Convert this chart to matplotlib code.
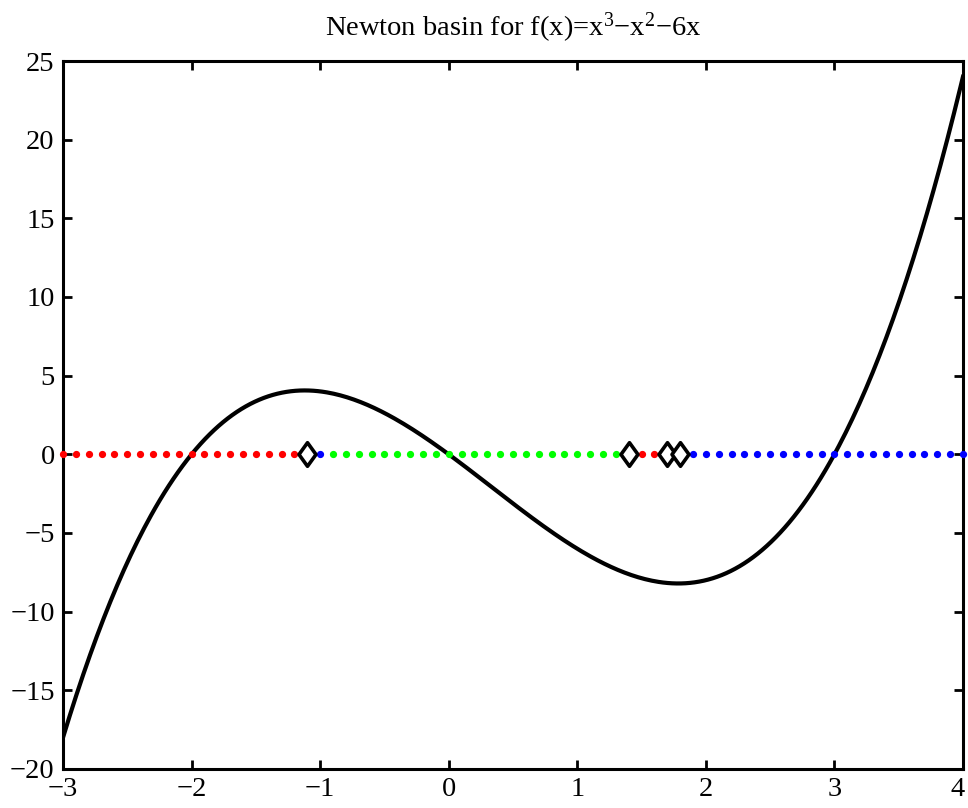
import numpy as np
import matplotlib
matplotlib.use('Agg')
import matplotlib.pyplot as plt
import matplotlib.transforms as mtransforms
from matplotlib.path import Path

plt.rcParams['font.family'] = ['Liberation Serif', 'DejaVu Serif']
plt.rcParams['mathtext.fontset'] = 'custom'
plt.rcParams['mathtext.rm'] = 'Liberation Serif'
plt.rcParams['mathtext.it'] = 'Liberation Serif:italic'

# polynomial from the title: x^3 - x^2 - 6x
coeffs = [1.0, -1.0, -6.0, 0.0]
x_min, x_max = -3.0, 4.0

# starting points on the axis, grouped by the root they converge to
red_x = [-3.0, -2.9, -2.8, -2.7, -2.6, -2.5, -2.4, -2.3, -2.2, -2.1, -2.0,
         -1.9, -1.8, -1.7, -1.6, -1.5, -1.4, -1.3, -1.2, 1.5, 1.6]
green_x = [-0.9, -0.8, -0.7, -0.6, -0.5, -0.4, -0.3, -0.2, -0.1, 0.0, 0.1,
           0.2, 0.3, 0.4, 0.5, 0.6, 0.7, 0.8, 0.9, 1.0, 1.1, 1.2, 1.3]
blue_x = [-1.0, 1.9, 2.0, 2.1, 2.2, 2.3, 2.4, 2.5, 2.6, 2.7, 2.8, 2.9, 3.0,
          3.1, 3.2, 3.3, 3.4, 3.5, 3.6, 3.7, 3.8, 3.9, 4.0]
# points marked with diamonds
diamond_x = [-1.1, 1.4, 1.7, 1.8]

xticks = [-3, -2, -1, 0, 1, 2, 3, 4]
yticks = [-20, -15, -10, -5, 0, 5, 10, 15, 20, 25]

fig = plt.figure(figsize=(9.68, 8.08), dpi=100)
ax = fig.add_axes([0.0651, 0.0483, 0.9297, 0.8762])

xc = np.linspace(x_min, x_max, 400)
ax.plot(xc, np.polyval(coeffs, xc), color='black', linewidth=3.0, zorder=2)

dot_kw = dict(linestyle='none', marker='o', markersize=4.2, clip_on=False, zorder=4)
ax.plot(red_x, np.zeros(len(red_x)), color=(1, 0, 0), **dot_kw)
ax.plot(green_x, np.zeros(len(green_x)), color=(0, 1, 0), **dot_kw)
ax.plot(blue_x, np.zeros(len(blue_x)), color=(0, 0, 1), **dot_kw)

diamond = Path([(0, 1), (0.72, 0), (0, -1), (-0.72, 0), (0, 1)],
               [Path.MOVETO, Path.LINETO, Path.LINETO, Path.LINETO, Path.CLOSEPOLY])
ax.plot(diamond_x, np.zeros(len(diamond_x)), linestyle='none', marker=diamond,
        markersize=17, markerfacecolor='white', markeredgecolor='black',
        markeredgewidth=2.6, zorder=5)

ax.set_xlim(x_min, x_max)
ax.set_ylim(-20, 25)
ax.set_xticks(xticks)
ax.set_yticks(yticks)
ax.tick_params(direction='in', length=6.5, width=2, labelsize=20.5,
               top=True, right=True)
ax.tick_params(axis='x', pad=6)
ax.tick_params(axis='y', pad=6)
for sp in ax.spines.values():
    sp.set_linewidth(2.2)

# nudge the last x label left so it stays inside the figure
last = ax.get_xticklabels()[-1]
last.set_transform(last.get_transform() +
                   mtransforms.ScaledTranslation(-4 / 72, 0, fig.dpi_scale_trans))

ax.set_title('Newton basin for f(x)=x$^{3}$\u2212x$^{2}$\u22126x', fontsize=20.5, pad=18)

fig.savefig('out.png', dpi=100)
plt.close(fig)
